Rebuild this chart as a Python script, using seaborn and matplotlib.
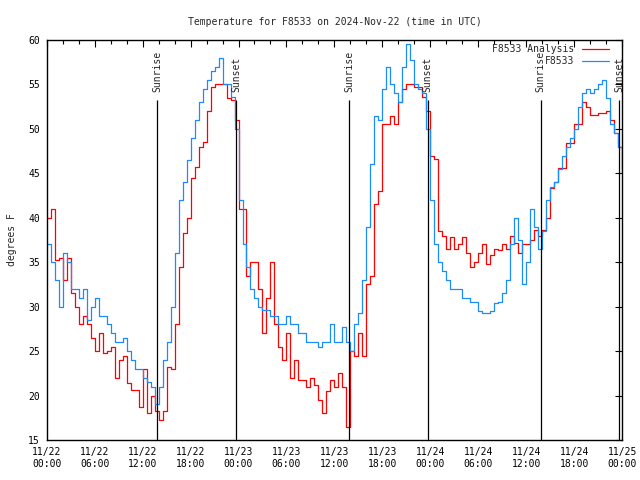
import pandas as pd
import matplotlib
matplotlib.use('Agg')
import matplotlib.pyplot as plt
import matplotlib.dates as mdates
import seaborn as sns

# half-hourly readings, 2024-11-22 00:00 to 2024-11-25 00:00 UTC
start = '2024-11-22 00:00'

analysis_temps = [
    40, 41, 35.2, 35.5, 33, 35.5, 31.5, 30, 28, 29, 28, 26.5,
    25, 27, 24.8, 25, 25.5, 22, 24, 24.4, 21.4, 20.6, 20.6, 18.7,
    23, 18, 20, 18.3, 17.3, 18.3, 23.2, 23, 28, 34.5, 38.3, 40,
    44.5, 45.7, 48, 48.5, 52, 54.7, 55, 55, 55, 53.5, 53.3, 51,
    41, 41, 33.5, 35, 35, 32, 27, 31, 35, 28, 25.5, 24,
    27, 22, 24, 21.7, 21.7, 21, 22, 21.2, 19.5, 18, 20.5, 21.7,
    21, 22.5, 21, 16.5, 25, 24.5, 27, 24.4, 32.5, 33.4, 41.6, 43,
    50.5, 50.5, 51.5, 50.5, 53, 54.5, 55, 55, 54.7, 54.7, 53.6, 52,
    47, 46.6, 38.5, 38, 36.5, 37.8, 36.5, 37, 37.8, 36, 34.5, 35,
    36, 37, 34.8, 35.8, 36.5, 36.4, 37, 36.5, 38, 37.2, 36, 37,
    37, 37.5, 38.6, 38, 38.6, 40, 43.3, 44, 45.6, 45.6, 48.4, 48.4,
    50.6, 50.6, 53, 52.5, 51.6, 51.6, 51.8, 51.8, 52, 51, 49.5, 48,
    45.2,
]

obs_temps = [
    37, 35, 33, 30, 36, 35, 32, 32, 31, 32, 28.5, 30,
    31, 29, 29, 28, 27, 26, 26, 26.5, 25, 24, 23, 23,
    22, 21.5, 21, 19, 21, 24, 26, 30, 36, 42, 44, 46.5,
    49, 51, 53, 54.5, 55.5, 56.5, 57, 58, 55, 55, 53.6, 50,
    42, 37, 34.5, 32, 31, 30, 29.6, 29.6, 29, 29, 28, 28,
    29, 28, 28, 27, 27, 26, 26, 26, 25.5, 26, 26, 28,
    26, 26, 27.7, 26, 25, 28, 29.3, 33, 39, 46, 51.5, 51,
    54.5, 57, 55, 54, 53, 57, 59.5, 57.8, 55, 54.5, 54, 50,
    42, 37, 35, 34, 33, 32, 32, 32, 31, 31, 30.5, 30.5,
    29.5, 29.3, 29.3, 29.5, 30.4, 30.5, 31.5, 33, 37, 40, 37.5, 32.5,
    35, 41, 39, 36.5, 38.5, 42, 43.5, 44, 45.5, 47, 48, 49,
    50, 52.5, 54, 54.5, 54, 54.5, 55, 55.5, 53.5, 50.5, 49.5, 48,
    45.5,
]

sun_labels = ['Sunrise', 'Sunset', 'Sunrise', 'Sunset', 'Sunrise', 'Sunset']
sun_times = ['2024-11-22 13:50', '2024-11-22 23:44', '2024-11-23 13:52',
             '2024-11-23 23:41', '2024-11-24 13:50', '2024-11-24 23:40']

times = pd.date_range(start, periods=len(obs_temps), freq='30min')
df = pd.concat([
    pd.DataFrame({'time': times, 'temp': analysis_temps, 'series': 'F8533 Analysis'}),
    pd.DataFrame({'time': times, 'temp': obs_temps, 'series': 'F8533'}),
])

sns.set_style('white')
plt.rcParams['font.family'] = ['DejaVu Sans Mono']
plt.rcParams['font.size'] = 7

fig = plt.figure(figsize=(6.4, 4.8), dpi=100)
ax = fig.add_axes([0.073, 0.0833, 0.899, 0.8334])

sns.lineplot(data=df, x='time', y='temp', hue='series',
             hue_order=['F8533 Analysis', 'F8533'],
             palette={'F8533 Analysis': '#ff0000', 'F8533': '#1a8cff'},
             drawstyle='steps-post', estimator=None, linewidth=0.9, ax=ax)

# sunrise / sunset markers
for lab, t in zip(sun_labels, sun_times):
    t = pd.Timestamp(t)
    ax.vlines(t, 15, 53.3, color='black', linewidth=0.9)
    ax.text(t, 54.1, lab, rotation=90, ha='center', va='bottom', fontsize=7)

ax.set_xlim(pd.Timestamp('2024-11-22 00:00'), pd.Timestamp('2024-11-25 00:00'))
ax.set_ylim(15, 60)
ax.set_yticks(range(15, 61, 5))
ax.xaxis.set_major_locator(mdates.HourLocator(byhour=[0, 6, 12, 18]))
ax.xaxis.set_minor_locator(mdates.HourLocator(byhour=range(0, 24, 2)))
ax.xaxis.set_major_formatter(mdates.DateFormatter('%m/%d\n%H:%M'))
ax.tick_params(which='both', direction='in', top=True, right=True,
               color='black', labelsize=7, labelcolor='black')
ax.tick_params(which='major', length=5, width=0.8, pad=5)
ax.tick_params(which='minor', length=3, width=0.8)
for s in ax.spines.values():
    s.set_color('black')
    s.set_linewidth(1)

ax.set_xlabel('')
ax.set_ylabel('degrees F', fontsize=7, labelpad=8)
ax.set_title('Temperature for F8533 on 2024-Nov-22 (time in UTC)', fontsize=7, pad=11)

leg = ax.legend(loc='upper right', bbox_to_anchor=(0.977, 0.99), frameon=False,
                markerfirst=False, handlelength=2.8, handletextpad=0.8,
                labelspacing=0.25, borderpad=0, borderaxespad=0, fontsize=7)
leg._legend_handle_box.get_children()[0].align = 'right'

fig.savefig('out.png', dpi=100)
